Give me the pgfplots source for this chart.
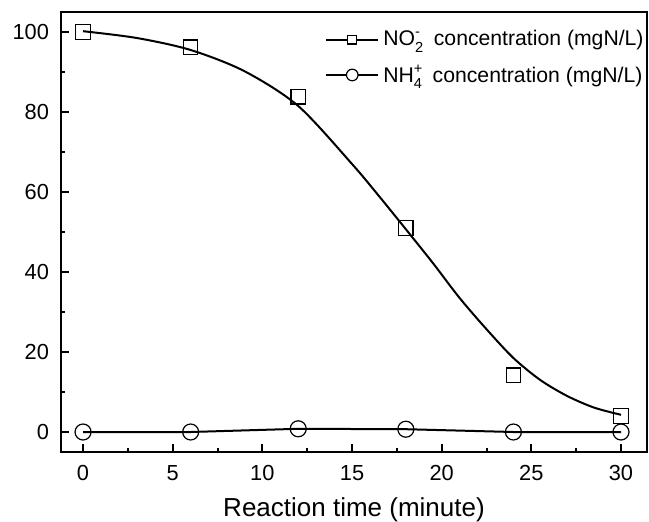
\documentclass[border=0pt]{standalone}
\usepackage{pgfplots}
\pgfplotsset{compat=1.18}
\usepackage{fontspec}
\setmainfont{Liberation Sans}
\newcommand{\ion}[3]{#1\rlap{\raisebox{4.5pt}{\fontsize{7.3}{8}\selectfont #3}}\raisebox{-3.4pt}{\fontsize{7.3}{8}\selectfont #2}\hspace{2.4pt}}
\begin{document}
\begin{tikzpicture}
\useasboundingbox (-30.5pt,-34.5pt) rectangle (294pt,226pt);
\begin{axis}[
  scale only axis,
  width=293pt, height=220pt,
  xmin=-1.23, xmax=31.45,
  ymin=-5, ymax=105,
  xtick={0,5,...,30}, ytick={0,20,...,100},
  minor x tick num=1, minor y tick num=1,
  tick pos=left,
  tick align=inside,
  major tick length=4pt, minor tick length=2pt,
  every tick/.style={black, line width=1pt},
  axis line style={line width=1.3pt},
  /pgf/number format/assume math mode=true,
  ticklabel style={font=\fontsize{10.9}{12}\selectfont},
  xticklabel style={yshift=-3.2pt},
  yticklabel style={xshift=-2.5pt},
  xlabel={Reaction time (minute)},
  xlabel style={font=\fontsize{13}{15}\selectfont, yshift=-1.6pt},
  legend cell align=left,
  legend style={at={(1,1)}, anchor=north east, draw=none, fill=none,
    font=\fontsize{10.6}{12}\selectfont, row sep=4pt, xshift=3.5pt, yshift=-5pt},
]
% fitted curve for NO2-
\addplot[black, line width=1pt, smooth, forget plot] coordinates {
(0,100.2) (3,98.5) (6,95.5) (9,90.2) (12,81.5) (15,67) (16.5,59) (18,50.7)
(19.5,42.3) (21,33.5) (22.5,25.7) (24,18.5) (25.5,13) (27,9) (28.5,6.1) (30,4.3)
};
\addplot[black, line width=0.6pt, only marks, mark=square, mark size=3.6pt, mark options={fill=white},
  legend image code/.code={\draw[black, line width=1pt] (0pt,0pt) -- (26pt,0pt);
    \draw[black, line width=0.6pt, fill=white] (13pt,0pt) +(-2.2pt,-2.2pt) rectangle +(2.2pt,2.2pt);}]
coordinates {(0,100) (6,96.2) (12,83.8) (18,51) (24,14.2) (30,4)};
\addlegendentry{\ion{NO}{2}{-} concentration (mgN/L)}
\addplot[black, line width=1pt, mark=o, mark size=4pt, mark options={fill=white, line width=0.6pt},
  legend image code/.code={\draw[black, line width=1pt] (0pt,0pt) -- (26pt,0pt);
    \draw[black, line width=0.6pt, fill=white] (13pt,0pt) circle (2.9pt);}]
coordinates {(0,0) (6,0) (12,0.8) (18,0.7) (24,0) (30,0)};
\addlegendentry{\ion{NH}{4}{+} concentration (mgN/L)}
\end{axis}
\end{tikzpicture}
\end{document}
